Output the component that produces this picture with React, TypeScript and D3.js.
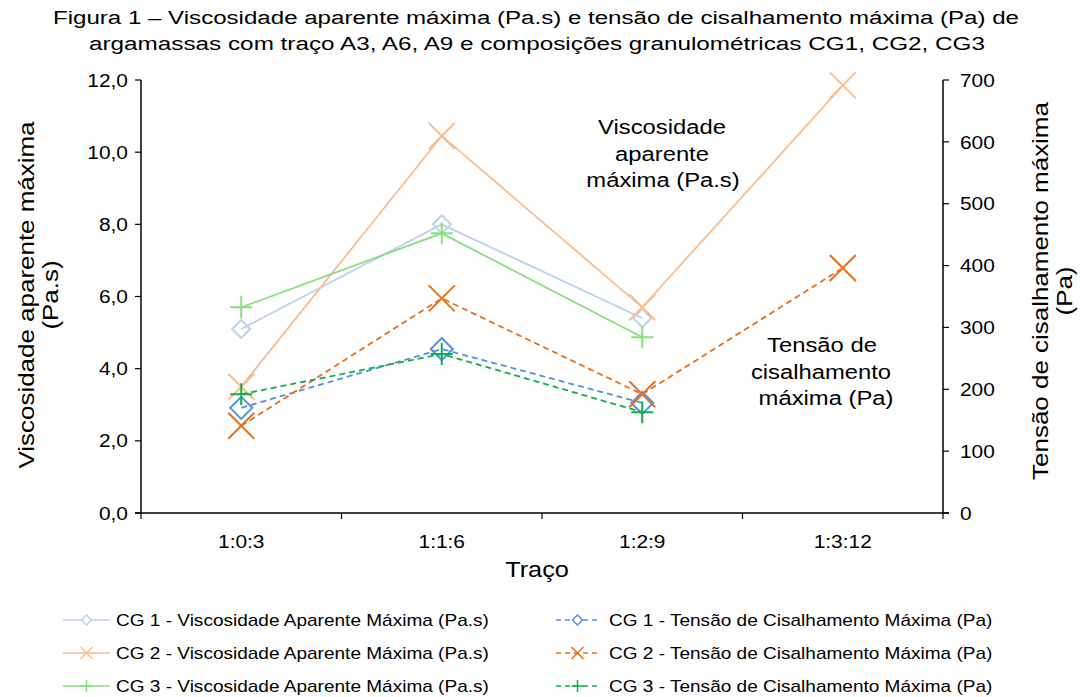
import React from "react";
import * as d3 from "d3";

// Traço categories (x axis)
const categories = ["1:0:3", "1:1:6", "1:2:9", "1:3:12"];

// Viscosidade aparente máxima (Pa.s) – left axis
const viscCG1: (number | null)[] = [5.1, 8.0, 5.4, null];
const viscCG2: (number | null)[] = [3.5, 10.45, 5.7, 11.85];
const viscCG3: (number | null)[] = [5.7, 7.75, 4.87, null];

// Tensão de cisalhamento máxima (Pa) – right axis
const tensCG1: (number | null)[] = [170, 265, 178, null];
const tensCG2: (number | null)[] = [141, 347, 192, 396];
const tensCG3: (number | null)[] = [192, 257, 163, null];

const leftTicks = [0, 2, 4, 6, 8, 10, 12];
const rightTicks = [0, 100, 200, 300, 400, 500, 600, 700];

const titleLines = [
  "Figura 1 – Viscosidade aparente máxima (Pa.s) e tensão de cisalhamento máxima (Pa) de",
  "argamassas com traço A3, A6, A9 e composições granulométricas CG1, CG2, CG3",
];

type Marker = "diamond" | "x" | "plus";
interface Series {
  name: string;
  values: (number | null)[];
  axis: "left" | "right";
  color: string;
  marker: Marker;
  size: number;
  dashed: boolean;
}

const series: Series[] = [
  { name: "CG 1 - Viscosidade Aparente Máxima (Pa.s)", values: viscCG1, axis: "left", color: "#BDD1EF", marker: "diamond", size: 9, dashed: false },
  { name: "CG 1 - Tensão de Cisalhamento Máxima (Pa)", values: tensCG1, axis: "right", color: "#5590DB", marker: "diamond", size: 11, dashed: true },
  { name: "CG 2 - Viscosidade Aparente Máxima (Pa.s)", values: viscCG2, axis: "left", color: "#F9BD8E", marker: "x", size: 13, dashed: false },
  { name: "CG 2 - Tensão de Cisalhamento Máxima (Pa)", values: tensCG2, axis: "right", color: "#E7701A", marker: "x", size: 13, dashed: true },
  { name: "CG 3 - Viscosidade Aparente Máxima (Pa.s)", values: viscCG3, axis: "left", color: "#88E07C", marker: "plus", size: 11, dashed: false },
  { name: "CG 3 - Tensão de Cisalhamento Máxima (Pa)", values: tensCG3, axis: "right", color: "#12AE4E", marker: "plus", size: 11, dashed: true },
];

const FONT = "'Liberation Sans', Arial, sans-serif";

function markerPath(kind: Marker, cx: number, cy: number, r: number): string {
  if (kind === "diamond") {
    return `M${cx},${cy - r}L${cx + r},${cy}L${cx},${cy + r}L${cx - r},${cy}Z`;
  }
  if (kind === "x") {
    return `M${cx - r},${cy - r}L${cx + r},${cy + r}M${cx - r},${cy + r}L${cx + r},${cy - r}`;
  }
  return `M${cx - r},${cy}L${cx + r},${cy}M${cx},${cy - r}L${cx},${cy + r}`;
}

// Text that is widened along its baseline (the chart's font runs wide)
function WideText(props: {
  x: number;
  y: number;
  size: number;
  sx: number;
  anchor?: "start" | "middle" | "end";
  rotate?: number;
  dy?: string;
  children: React.ReactNode;
}) {
  const { x, y, size, sx, anchor = "start", rotate = 0, dy, children } = props;
  return (
    <text
      transform={`translate(${x},${y}) rotate(${rotate}) scale(${sx},1)`}
      textAnchor={anchor}
      fontSize={size}
      dy={dy}
      fill="#000"
    >
      {children}
    </text>
  );
}

export default function App() {
  const left = 141;
  const right = 943;
  const top = 80;
  const bottom = 513;

  const x = d3.scaleBand<string>().domain(categories).range([left, right]);
  const yL = d3.scaleLinear().domain([0, 12]).range([bottom, top]);
  const yR = d3.scaleLinear().domain([0, 700]).range([bottom, top]);
  const cx = (c: string) => (x(c) ?? 0) + x.bandwidth() / 2;

  const fmtL = (v: number) => v.toFixed(1).replace(".", ",");

  const legendRows = [620, 653, 686];

  return (
    <svg
      width={1083}
      height={697}
      style={{ position: "absolute", left: 0, top: 0, background: "#fff" }}
      fontFamily={FONT}
    >
      <rect x={0} y={0} width={1083} height={697} fill="#fff" />

      {/* title */}
      <text x={536} y={24} textAnchor="middle" fontSize={18} fill="#000" textLength={966} lengthAdjust="spacingAndGlyphs">
        {titleLines[0]}
      </text>
      <text x={537} y={50} textAnchor="middle" fontSize={18} fill="#000" textLength={896} lengthAdjust="spacingAndGlyphs">
        {titleLines[1]}
      </text>

      {/* left axis */}
      <line x1={left} x2={left} y1={top} y2={bottom} stroke="#000" strokeWidth={1.5} />
      {leftTicks.map((t) => (
        <g key={"l" + t}>
          <line x1={left - 6} x2={left} y1={yL(t)} y2={yL(t)} stroke="#000" strokeWidth={1.2} />
          <WideText x={left - 13} y={yL(t)} dy="0.35em" anchor="end" size={19} sx={1.1}>
            {fmtL(t)}
          </WideText>
        </g>
      ))}

      {/* right axis */}
      <line x1={right} x2={right} y1={top} y2={bottom} stroke="#000" strokeWidth={1.5} />
      {rightTicks.map((t) => (
        <g key={"r" + t}>
          <line x1={right} x2={right + 6} y1={yR(t)} y2={yR(t)} stroke="#000" strokeWidth={1.2} />
          <WideText x={right + 17} y={yR(t)} dy="0.35em" anchor="start" size={19} sx={1.1}>
            {t}
          </WideText>
        </g>
      ))}

      {/* x axis */}
      <line x1={left - 6} x2={right + 6} y1={bottom} y2={bottom} stroke="#000" strokeWidth={1.5} />
      {[...categories.map((c) => x(c) ?? 0), right].map((p, i) => (
        <line key={"xt" + i} x1={p} x2={p} y1={bottom} y2={bottom + 6} stroke="#000" strokeWidth={1.2} />
      ))}
      {categories.map((c) => (
        <WideText key={"xl" + c} x={cx(c)} y={548} anchor="middle" size={19} sx={1.1}>
          {c}
        </WideText>
      ))}
      <WideText x={537} y={577} anchor="middle" size={22} sx={1.15}>
        Traço
      </WideText>

      {/* axis titles */}
      <WideText x={34} y={295} anchor="middle" size={22} sx={1.18} rotate={-90}>
        Viscosidade aparente máxima
      </WideText>
      <WideText x={58} y={295} anchor="middle" size={22} sx={1.18} rotate={-90}>
        (Pa.s)
      </WideText>
      <WideText x={1048} y={291} anchor="middle" size={22} sx={1.18} rotate={-90}>
        Tensão de cisalhamento máxima
      </WideText>
      <WideText x={1072} y={291} anchor="middle" size={22} sx={1.18} rotate={-90}>
        (Pa)
      </WideText>

      {/* series */}
      {series.map((s, i) => {
        const y = s.axis === "left" ? yL : yR;
        const pts: [number, number][] = [];
        s.values.forEach((v, j) => {
          if (v != null) pts.push([cx(categories[j]), y(v)]);
        });
        const line = d3.line<[number, number]>()(pts) ?? "";
        return (
          <g key={"s" + i}>
            <path d={line} fill="none" stroke={s.color} strokeWidth={1.8} strokeDasharray={s.dashed ? "6,4" : undefined} />
            {pts.map((p, k) => (
              <path key={k} d={markerPath(s.marker, p[0], p[1], s.size)} fill="none" stroke={s.color} strokeWidth={2} />
            ))}
          </g>
        );
      })}

      {/* annotations */}
      <WideText x={662} y={134} anchor="middle" size={20} sx={1.19}>Viscosidade</WideText>
      <WideText x={662} y={161} anchor="middle" size={20} sx={1.19}>aparente</WideText>
      <WideText x={663} y={187} anchor="middle" size={20} sx={1.19}>máxima (Pa.s)</WideText>
      <WideText x={822} y={352} anchor="middle" size={20} sx={1.19}>Tensão  de</WideText>
      <WideText x={821} y={379} anchor="middle" size={20} sx={1.19}>cisalhamento</WideText>
      <WideText x={826} y={405} anchor="middle" size={20} sx={1.19}>máxima (Pa)</WideText>

      {/* legend */}
      {series.map((s, i) => {
        const col = i % 2;
        const row = Math.floor(i / 2);
        const yy = legendRows[row];
        const x0 = col === 0 ? 63 : 556;
        const x1 = col === 0 ? 110 : 599;
        const tx = col === 0 ? 116 : 609;
        const mid = (x0 + x1) / 2;
        return (
          <g key={"lg" + i}>
            <line x1={x0} x2={x1} y1={yy} y2={yy} stroke={s.color} strokeWidth={1.5} strokeDasharray={s.dashed ? "5,4" : undefined} />
            <path d={markerPath(s.marker, mid, yy, s.marker === "diamond" ? 5 : 6)} fill="#fff" stroke={s.color} strokeWidth={1.5} />
            <WideText x={tx} y={yy} dy="0.35em" size={17} sx={1.12}>
              {s.name}
            </WideText>
          </g>
        );
      })}
    </svg>
  );
}
